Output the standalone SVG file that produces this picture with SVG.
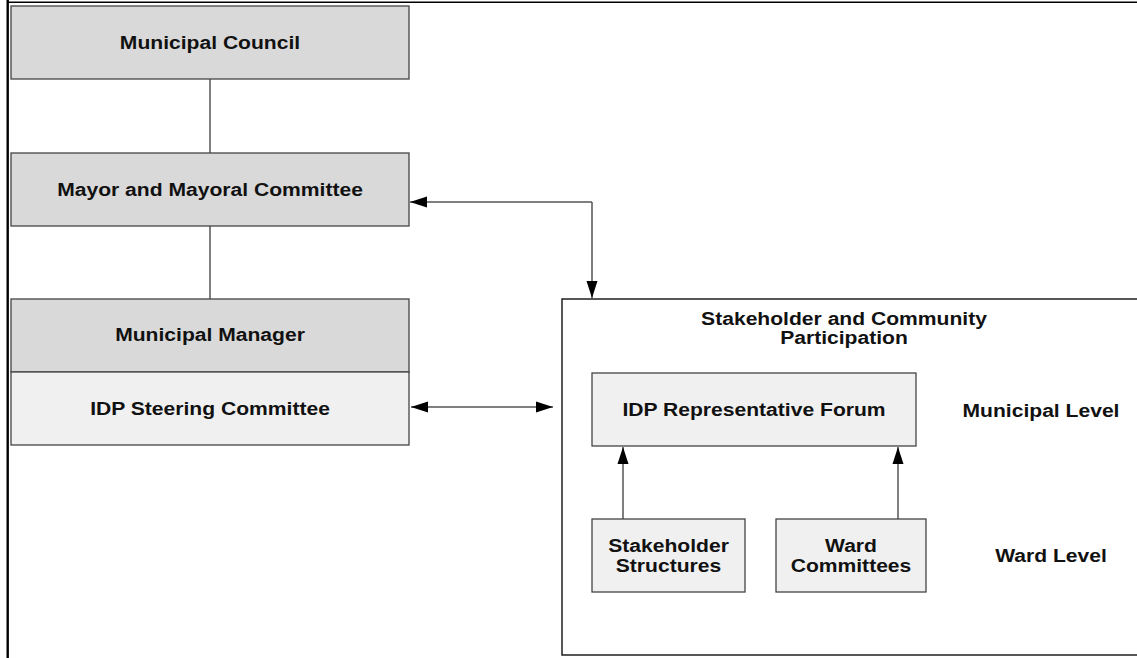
<svg xmlns="http://www.w3.org/2000/svg" width="1137" height="658" viewBox="0 0 1137 658">
  <style>
    .t { font-family: "Liberation Sans", Arial, sans-serif; font-weight: bold; font-size: 18.5px; fill: #111; text-anchor: middle; }
    .dark { fill: #d9d9d9; stroke: #444; stroke-width: 1.3; }
    .light { fill: #f0f0f0; stroke: #444; stroke-width: 1.3; }
    .link { fill: none; stroke: #555; stroke-width: 1.5; }
  </style>
  <defs>
    <marker id="arrow" markerUnits="userSpaceOnUse" markerWidth="18" markerHeight="12" refX="17" refY="6" orient="auto-start-reverse">
      <path d="M0,0.5 L17,6 L0,11.5 Z" fill="#000"/>
    </marker>
  </defs>

  <rect width="1137" height="658" fill="#fff"/>

  <!-- page frame -->
  <g id="frame" stroke="#000" fill="none">
    <line x1="7.7" y1="0" x2="7.7" y2="658" stroke-width="2.4"/>
    <line x1="7" y1="2.2" x2="1137" y2="2.2" stroke-width="1.6"/>
  </g>

  <!-- participation container -->
  <g id="participation">
    <rect x="562" y="299" width="600" height="356" fill="#fff" stroke="#111" stroke-width="1.4"/>
    <text class="t" transform="matrix(1.14 0 0 1 844 325)">Stakeholder and Community</text>
    <text class="t" transform="matrix(1.14 0 0 1 844 344)">Participation</text>
  </g>

  <g id="connectors">
    <line class="link" x1="210" y1="79" x2="210" y2="153"/>
    <line class="link" x1="210" y1="226" x2="210" y2="299"/>
    <path class="link" d="M592,202 L592,298" marker-end="url(#arrow)"/>
    <path class="link" d="M410,202 L592,202" marker-start="url(#arrow)"/>
    <path class="link" d="M411,407 L553,407" marker-start="url(#arrow)" marker-end="url(#arrow)"/>
    <path class="link" d="M623,519 L623,447" marker-end="url(#arrow)"/>
    <path class="link" d="M898,519 L898,447" marker-end="url(#arrow)"/>
  </g>

  <g id="council">
    <rect class="dark" x="11" y="6" width="398" height="73"/>
    <text class="t" transform="matrix(1.14 0 0 1 210 49)">Municipal Council</text>
  </g>

  <g id="mayor">
    <rect class="dark" x="11" y="153" width="398" height="73"/>
    <text class="t" transform="matrix(1.14 0 0 1 210 196)">Mayor and Mayoral Committee</text>
  </g>

  <g id="manager">
    <rect class="dark" x="11" y="299" width="398" height="73"/>
    <text class="t" transform="matrix(1.14 0 0 1 210 341)">Municipal Manager</text>
  </g>

  <g id="steering">
    <rect class="light" x="11" y="372" width="398" height="73"/>
    <text class="t" transform="matrix(1.14 0 0 1 210 415)">IDP Steering Committee</text>
  </g>

  <g id="forum">
    <rect class="light" x="592" y="373" width="324" height="73"/>
    <text class="t" transform="matrix(1.14 0 0 1 754 416)">IDP Representative Forum</text>
  </g>

  <g id="stakeholder-structures">
    <rect class="light" x="592" y="519" width="153" height="73"/>
    <text class="t" transform="matrix(1.14 0 0 1 668.5 552)">Stakeholder</text>
    <text class="t" transform="matrix(1.14 0 0 1 668.5 572)">Structures</text>
  </g>

  <g id="ward-committees">
    <rect class="light" x="776" y="519" width="150" height="73"/>
    <text class="t" transform="matrix(1.14 0 0 1 851 552)">Ward</text>
    <text class="t" transform="matrix(1.14 0 0 1 851 572)">Committees</text>
  </g>

  <g id="levels">
    <text class="t" transform="matrix(1.14 0 0 1 1041 417)">Municipal Level</text>
    <text class="t" transform="matrix(1.14 0 0 1 1051 562)">Ward Level</text>
  </g>
</svg>
